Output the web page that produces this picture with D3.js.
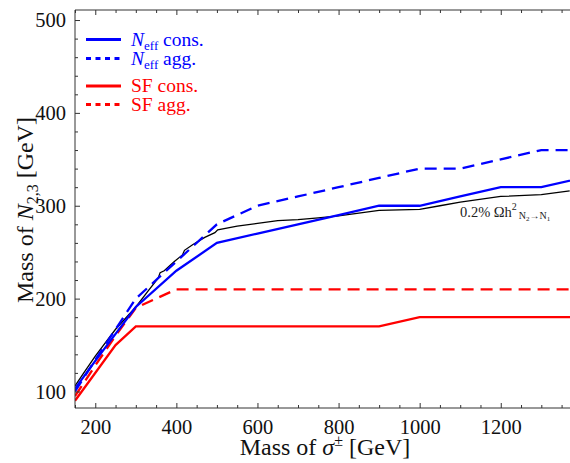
<!DOCTYPE html>
<html><head><meta charset="utf-8">
<script src="https://cdn.jsdelivr.net/npm/d3@7"></script>
<style>
html,body{margin:0;padding:0;background:#fff;}
svg{display:block;font-family:"Liberation Serif","Times New Roman",serif;}
</style></head>
<body>
<svg id="c" width="570" height="463"></svg>
<script>
// ---- data ----
const blueConsX = [150,200,250,300,400,500,600,700,800,900,1000,1100,1200,1300,1400];
const blueConsY = [103,133,162,191,230,260,270,280,290,300,300,310,320,320,330];
const blueAggX  = [150,200,250,300,400,500,600,700,800,900,1000,1100,1200,1300,1400];
const blueAggY  = [100,134,167,200,240,280,300,310,320,330,340,340,350,360,360];
const redConsX  = [150,250,300,400,500,600,700,800,900,1000,1100,1200,1300,1400];
const redConsY  = [90,150,170,170,170,170,170,170,170,180,180,180,180,180];
const redAggX   = [150,200,250,300,400,500,600,700,800,900,1000,1100,1200,1300,1400];
const redAggY   = [95,128,160,190,210,210,210,210,210,210,210,210,210,210,210];
const relicX = [150,170,200,250,300,330,355,360,370,395,415,420,440,470,495,502,550,600,650,700,750,800,850,900,1000,1050,1100,1200,1300,1370];
const relicY = [106,119,138,167,191,208,222,228,230,240,247,252,258,266,271,274,278,281,284,285,287,289,292,295,296,300,304,310,312,316];
const xMajorTicks = [200,400,600,800,1000,1200];
const yMajorTicks = [100,200,300,400,500];

const svg = d3.select("#c");
const x = d3.scaleLinear().domain([150,1372]).range([75,570.5]);
const y = d3.scaleLinear().domain([82.2,510.8]).range([408,10]);

svg.append("clipPath").attr("id","clip").append("rect")
  .attr("x",75).attr("y",10).attr("width",495.5).attr("height",398);

const zip = (xs,ys)=>xs.map((v,i)=>[v,ys[i]]);
const line = d3.line().x(d=>x(d[0])).y(d=>y(d[1]));
const g = svg.append("g").attr("clip-path","url(#clip)");

const series = [
  {xs:relicX, ys:relicY, color:"#000", w:1.3, dash:null},
  {xs:redConsX, ys:redConsY, color:"#ff0000", w:2.3, dash:null},
  {xs:redAggX, ys:redAggY, color:"#ff0000", w:2.3, dash:"12,7"},
  {xs:blueConsX, ys:blueConsY, color:"#0000ff", w:2.3, dash:null},
  {xs:blueAggX, ys:blueAggY, color:"#0000ff", w:2.3, dash:"12,7"}
];
series.forEach(s=>{
  g.append("path").datum(zip(s.xs,s.ys)).attr("d",line)
   .attr("fill","none").attr("stroke",s.color).attr("stroke-width",s.w)
   .attr("stroke-dasharray",s.dash);
});

// ---- frame & ticks ----
const frame = "#333";
svg.append("line").attr("x1",75).attr("x2",75).attr("y1",10).attr("y2",408).attr("stroke",frame);
svg.append("line").attr("x1",75).attr("x2",571).attr("y1",408).attr("y2",408).attr("stroke",frame);
svg.append("line").attr("x1",75).attr("x2",571).attr("y1",10).attr("y2",10).attr("stroke",frame);

const xMinor = d3.range(150,1400,50).filter(v=>!xMajorTicks.includes(v));
const yMinor = d3.range(100,520,20).filter(v=>!yMajorTicks.includes(v));

const bottomAxis = d3.axisBottom(x).tickValues(xMajorTicks).tickSize(-5).tickPadding(11).tickFormat(d3.format("d"));
const bA = svg.append("g").attr("transform","translate(0,408)").call(bottomAxis);
bA.select(".domain").remove();
bA.selectAll("text").attr("font-size",20.5).attr("fill","#111").attr("font-family","Liberation Serif");
bA.selectAll("line").attr("stroke",frame);
const bMin = svg.append("g").attr("transform","translate(0,408)").call(d3.axisBottom(x).tickValues(xMinor).tickSize(-3).tickFormat(""));
bMin.select(".domain").remove(); bMin.selectAll("line").attr("stroke",frame);

const tA = svg.append("g").attr("transform","translate(0,10)").call(d3.axisTop(x).tickValues(xMajorTicks).tickSize(-5).tickFormat(""));
tA.select(".domain").remove(); tA.selectAll("line").attr("stroke",frame);
const tMin = svg.append("g").attr("transform","translate(0,10)").call(d3.axisTop(x).tickValues(xMinor).tickSize(-3).tickFormat(""));
tMin.select(".domain").remove(); tMin.selectAll("line").attr("stroke",frame);

const leftAxis = d3.axisLeft(y).tickValues(yMajorTicks).tickSize(-5).tickPadding(9).tickFormat(d3.format("d"));
const lA = svg.append("g").attr("transform","translate(75,0)").call(leftAxis);
lA.select(".domain").remove();
lA.selectAll("text").attr("font-size",20.5).attr("fill","#111").attr("font-family","Liberation Serif");
lA.selectAll("line").attr("stroke",frame);
const lMin = svg.append("g").attr("transform","translate(75,0)").call(d3.axisLeft(y).tickValues(yMinor).tickSize(-3).tickFormat(""));
lMin.select(".domain").remove(); lMin.selectAll("line").attr("stroke",frame);

// ---- axis titles ----
const xt = svg.append("text").attr("x",325).attr("y",455).attr("text-anchor","middle")
  .attr("font-size",24).attr("fill","#111");
xt.append("tspan").text("Mass of ");
xt.append("tspan").attr("font-style","italic").text("σ");
xt.append("tspan").attr("font-size",16).attr("dy",-9).text("±");
xt.append("tspan").attr("dy",9).text(" [GeV]");

const yt = svg.append("text").attr("transform","translate(33,210) rotate(-90)").attr("text-anchor","middle")
  .attr("font-size",24).attr("fill","#111");
yt.append("tspan").text("Mass of ");
yt.append("tspan").attr("font-style","italic").text("N");
yt.append("tspan").attr("font-size",16).attr("dy",5).text("2,3");
yt.append("tspan").attr("dy",-5).text(" [GeV]");

// ---- legend ----
const legend = [
  {label:"N", sub:"eff", rest:" cons.", color:"#0000ff", dash:null, y:39.5},
  {label:"N", sub:"eff", rest:" agg.", color:"#0000ff", dash:"5,4.5", y:58.5},
  {label:"SF cons.", sub:null, rest:"", color:"#ff0000", dash:null, y:86},
  {label:"SF agg.", sub:null, rest:"", color:"#ff0000", dash:"5,4.5", y:104.5}
];
legend.forEach(l=>{
  svg.append("line").attr("x1",86).attr("x2",121).attr("y1",l.y).attr("y2",l.y)
    .attr("stroke",l.color).attr("stroke-width",3).attr("stroke-dasharray",l.dash);
  const t = svg.append("text").attr("x",131).attr("y",l.y+6).attr("font-size",19.5).attr("fill",l.color);
  if(l.sub){
    t.append("tspan").attr("font-style","italic").text(l.label);
    t.append("tspan").attr("font-size",13).attr("dy",4).text(l.sub);
    t.append("tspan").attr("dy",-4).text(l.rest);
  } else {
    t.append("tspan").text(l.label);
  }
});

// ---- annotation ----
const an = svg.append("text").attr("x",460).attr("y",217).attr("font-size",14.5).attr("fill","#222");
an.append("tspan").text("0.2% Ωh");
an.append("tspan").attr("font-size",10).attr("dy",-7).text("2");
an.append("tspan").attr("font-size",10).attr("dy",9).attr("dx",2).text("N");
an.append("tspan").attr("font-size",7).attr("dy",2).text("2");
an.append("tspan").attr("font-size",10).attr("dy",-2).text("→N");
an.append("tspan").attr("font-size",7).attr("dy",2).text("1");
</script>
</body></html>
